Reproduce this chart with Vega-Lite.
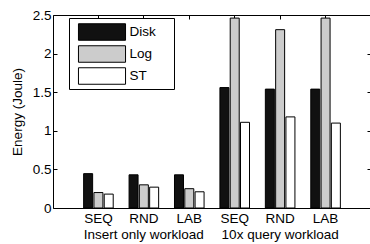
{
  "$schema": "https://vega.github.io/schema/vega-lite/v6.json",
  "width": 318,
  "height": 193,
  "autosize": "none",
  "padding": {"left": 53, "top": 15, "right": 0, "bottom": 36},
  "background": "white",
  "config": {
    "font": "Liberation Sans",
    "view": {"stroke": null},
    "axis": {
      "domainColor": "black",
      "tickColor": "black",
      "labelColor": "black",
      "titleColor": "black",
      "labelFont": "Liberation Sans",
      "titleFont": "Liberation Sans",
      "labelFontSize": 13.5,
      "titleFontSize": 13.5,
      "titleFontWeight": "normal",
      "grid": false,
      "tickSize": -4
    }
  },
  "data": {
    "values": [
      {"group": "I-SEQ", "series": "Disk", "energy": 0.445},
      {"group": "I-SEQ", "series": "Log", "energy": 0.2},
      {"group": "I-SEQ", "series": "ST", "energy": 0.18},
      {"group": "I-RND", "series": "Disk", "energy": 0.43},
      {"group": "I-RND", "series": "Log", "energy": 0.3},
      {"group": "I-RND", "series": "ST", "energy": 0.27},
      {"group": "I-LAB", "series": "Disk", "energy": 0.43},
      {"group": "I-LAB", "series": "Log", "energy": 0.25},
      {"group": "I-LAB", "series": "ST", "energy": 0.21},
      {"group": "Q-SEQ", "series": "Disk", "energy": 1.56},
      {"group": "Q-SEQ", "series": "Log", "energy": 2.46},
      {"group": "Q-SEQ", "series": "ST", "energy": 1.11},
      {"group": "Q-RND", "series": "Disk", "energy": 1.54},
      {"group": "Q-RND", "series": "Log", "energy": 2.31},
      {"group": "Q-RND", "series": "ST", "energy": 1.18},
      {"group": "Q-LAB", "series": "Disk", "energy": 1.54},
      {"group": "Q-LAB", "series": "Log", "energy": 2.46},
      {"group": "Q-LAB", "series": "ST", "energy": 1.1}
    ]
  },
  "layer": [
    {
      "mark": {"type": "bar", "stroke": "black", "strokeWidth": 1},
      "encoding": {
        "x": {
          "field": "group",
          "type": "nominal",
          "sort": ["I-SEQ", "I-RND", "I-LAB", "Q-SEQ", "Q-RND", "Q-LAB"],
          "scale": {"paddingInner": 0, "paddingOuter": 0.5},
          "axis": {
            "orient": "bottom",
            "title": null,
            "labelAngle": 0,
            "bandPosition": 0.5,
            "labelPadding": 7,
            "labelLineHeight": 16,
            "labelExpr": "datum.value == 'I-RND' ? ['RND', '\u00a0\u00a0Insert only workload'] : datum.value == 'Q-RND' ? ['RND', '\u00a0\u00a0\u00a0\u00a010x query workload'] : slice(datum.value, 2)"
          }
        },
        "xOffset": {
          "field": "series",
          "type": "nominal",
          "sort": ["Disk", "Log", "ST"],
          "scale": {"paddingInner": 0.126, "paddingOuter": 0.77}
        },
        "y": {
          "field": "energy",
          "type": "quantitative",
          "scale": {"domain": [0, 2.5], "nice": false},
          "axis": {
            "orient": "left",
            "title": "Energy (Joule)",
            "values": [0, 0.5, 1, 1.5, 2, 2.5],
            "format": ".1~f",
            "labelPadding": 6,
            "titlePadding": 8
          }
        },
        "fill": {
          "field": "series",
          "type": "nominal",
          "scale": {"domain": ["Disk", "Log", "ST"], "range": ["#111111", "#cccccc", "#ffffff"]},
          "legend": {
            "orient": "none",
            "legendX": 16,
            "legendY": 3,
            "title": "\u00a0",
            "titleOrient": "right",
            "titlePadding": 16,
            "titleFontSize": 13.5,
            "symbolType": "M-2.14,-0.75H2.14V0.75H-2.14Z",
            "symbolSize": 484,
            "symbolStrokeColor": "black",
            "symbolStrokeWidth": 1,
            "symbolOffset": 19,
            "labelOffset": 16,
            "labelAlign": "left",
            "labelFont": "Liberation Sans",
            "labelFontSize": 13.5,
            "labelColor": "black",
            "strokeColor": "black",
            "fillColor": "white",
            "padding": 2.5,
            "rowPadding": 0
          }
        }
      }
    },
    {
      "mark": {"type": "bar", "opacity": 0},
      "encoding": {
        "x": {
          "field": "group",
          "type": "nominal",
          "sort": ["I-SEQ", "I-RND", "I-LAB", "Q-SEQ", "Q-RND", "Q-LAB"],
          "axis": {"orient": "top", "title": null, "labels": false, "bandPosition": 0.5}
        },
        "y": {
          "field": "energy",
          "type": "quantitative",
          "axis": {"orient": "right", "title": null, "labels": false, "values": [0, 0.5, 1, 1.5, 2, 2.5]}
        }
      }
    }
  ],
  "resolve": {"axis": {"x": "independent", "y": "independent"}}
}
